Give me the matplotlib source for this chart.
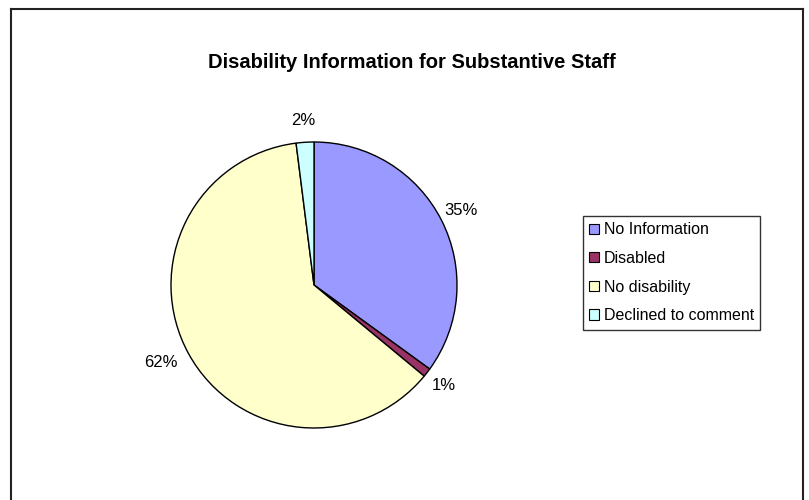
import matplotlib
matplotlib.use("Agg")
import matplotlib.pyplot as plt
from matplotlib.lines import Line2D
from matplotlib.patches import Patch

plt.rcParams["font.family"] = ["Liberation Sans", "DejaVu Sans"]

categories = ["No Information", "Disabled", "No disability", "Declined to comment"]
values = [35, 1, 62, 2]
colors = ["#9999FF", "#993366", "#FFFFCC", "#CCFFFF"]
title = "Disability Information for Substantive Staff"

W, H = 809, 500
fig = plt.figure(figsize=(W / 100, H / 100), dpi=100)

# marco exterior (sin linea inferior, como en la referencia)
for xs, ys in [((11, 11), (0, 491)), ((11, 803), (491, 491)), ((803, 803), (491, 0))]:
    fig.add_artist(Line2D([x / W for x in xs], [y / H for y in ys],
                          color="#222222", linewidth=1.5))

fig.text(412 / W, 1 - 62 / H, title, ha="center", va="center",
         fontsize=14.5, fontweight="bold")

cx, cy, r = 314, 285, 143
ax = fig.add_axes([(cx - r) / W, 1 - (cy + r) / H, 2 * r / W, 2 * r / H])
wedges, texts, autotexts = ax.pie(
    values, colors=colors, startangle=90, counterclock=False,
    autopct="%1.0f%%", pctdistance=1.15,
    wedgeprops=dict(edgecolor="black", linewidth=1.0),
    textprops=dict(fontsize=12),
)
ax.set_xlim(-1, 1)
ax.set_ylim(-1, 1)
ax.set_aspect("equal")
for t in autotexts:
    t.set_clip_on(False)
# la etiqueta del 62% queda un poco mas afuera en el original
x, y = autotexts[2].get_position()
autotexts[2].set_position((x - 0.06, y + 0.01))

handles = [Patch(facecolor=c, edgecolor="black", linewidth=0.8) for c in colors]
leg = fig.legend(handles, categories, loc="upper left",
                 bbox_to_anchor=(583 / W, 1 - 216 / H), fontsize=11.5,
                 frameon=True, fancybox=False, edgecolor="black",
                 handlelength=0.6, handleheight=0.6, handletextpad=0.3,
                 labelspacing=0.85, borderpad=0.4, borderaxespad=0)
leg.get_frame().set_linewidth(1.0)

fig.savefig("out.png", dpi=100)
